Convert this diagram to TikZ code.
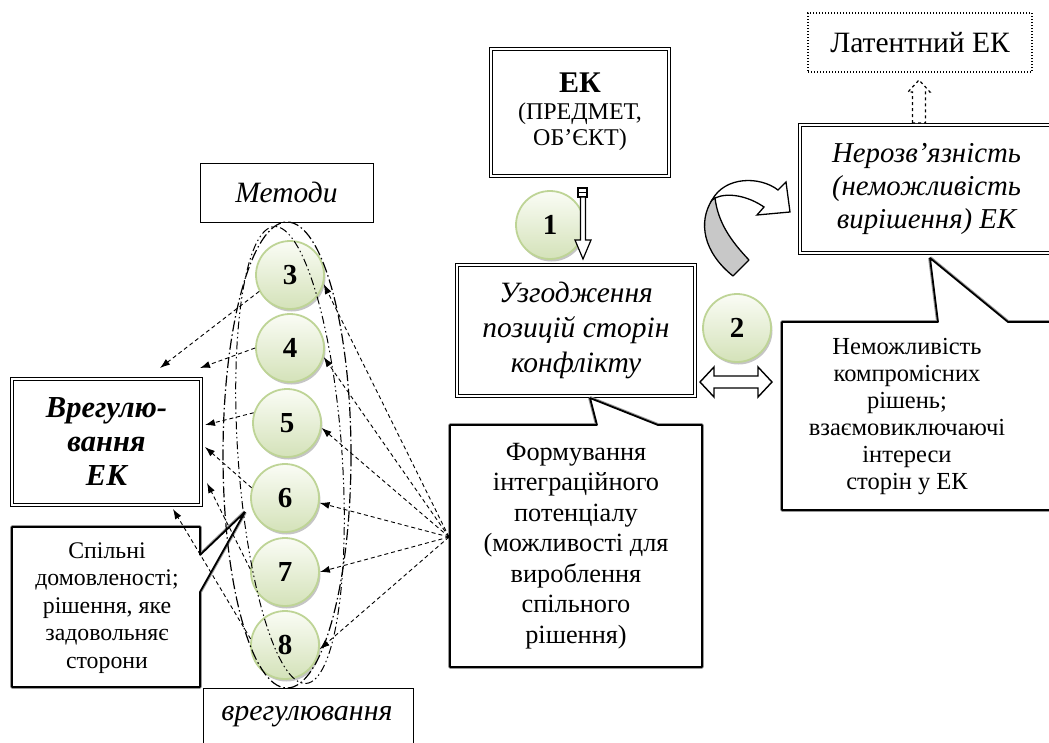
\documentclass[tikz,border=0pt]{standalone}
\usepackage{fontspec}
\setmainfont{Liberation Serif}
\usetikzlibrary{arrows.meta,calc,shadows}
\definecolor{circborder}{RGB}{190,212,150}
\definecolor{circtop}{RGB}{250,252,245}
\definecolor{circbot}{RGB}{212,226,185}
\definecolor{arrgray}{RGB}{200,200,200}
\begin{document}
\begin{tikzpicture}[x=1pt,y=-1pt,
  dbox/.style={draw, double, double distance=2pt, line width=1pt, fill=white, align=center, inner sep=0pt},
  sbox/.style={draw, line width=1pt, fill=white, align=center, inner sep=0pt},
  circ/.style={circle, minimum size=68pt, inner sep=0pt, draw=circborder, line width=1.8pt, top color=circtop, bottom color=circbot, drop shadow={shadow xshift=1.5pt, shadow yshift=-2.5pt, fill=black!45}, font=\fontsize{29}{30}\selectfont\bfseries},
  cpath/.style={draw=black, line width=1.8pt, fill=white, line join=bevel, preaction={draw=black!40, line width=3.8pt, line join=bevel}},
  dar/.style={dash pattern=on 4pt off 3pt, line width=0.9pt, -{Latex[length=10pt,width=7pt]}},
  blk/.style={draw, line width=1.4pt, fill=white, line join=miter},
  ctext/.style={align=center, inner sep=0pt}
]
\useasboundingbox (0,0) rectangle (1049,742);
\clip (0,0) rectangle (1049,742);

% top boxes
\node[sbox, dotted, line width=1.3pt, minimum width=224pt, minimum height=59pt, font=\fontsize{29.5}{30}\selectfont] (lat) at (920,42.5) {Латентний ЕК};
\node[dbox, minimum width=178pt, minimum height=127pt, font=\fontsize{24}{26.5}\selectfont] (ek) at (580,112) {{\bfseries\fontsize{30}{26}\selectfont ЕК}\\(ПРЕДМЕТ,\\ОБ’ЄКТ)};
\node[dbox, minimum width=238pt, minimum height=131pt, font=\itshape\fontsize{29.5}{35}\selectfont] (uzg) at (576,330) {Узгодження\\позицій сторін\\конфлікту};
\node[dbox, minimum width=253pt, minimum height=128pt, font=\itshape\fontsize{28.8}{33}\selectfont] (ner) at (926.5,189) {Нерозв’язність\\(неможливість\\вирішення) ЕК};

% left boxes
\node[sbox, minimum width=173pt, minimum height=59pt, font=\itshape\fontsize{29.5}{30}\selectfont] (met) at (286.5,192.5) {Методи};
\node[dbox, minimum width=189pt, minimum height=126pt, font=\bfseries\itshape\fontsize{30.5}{34}\selectfont] (vr) at (106.5,442) {Врегулю-\\вання\\ЕК};
\node[sbox, minimum width=210pt, minimum height=70pt, anchor=north] (vrb) at (308,688) {};
\node[ctext, font=\itshape\fontsize{30}{30}\selectfont] (vrt) at (307,717) {врегулювання};

% callouts
\draw[cpath] (450,425) -- (597,425) -- (590,398) -- (658,425) -- (702,425) -- (702,667) -- (450,667) -- cycle;
\node[ctext, font=\fontsize{26.3}{30.5}\selectfont] (form) at (576,546) {Формування\\інтеграційного\\потенціалу\\(можливості для\\вироблення\\спільного\\рішення)};

\draw[cpath] (782,322) -- (938,322) -- (930,258) -- (1008,322) -- (1070,322) -- (1070,510) -- (782,510) -- cycle;
\node[ctext, font=\fontsize{24.5}{27}\selectfont] (nem) at (907,417) {Неможливість\\компромісних\\рішень;\\взаємовиключаючі\\інтереси\\сторін у ЕК};

\draw[cpath] (12,527) -- (200,527) -- (200,555) -- (245,512) -- (200,592) -- (200,687) -- (12,687) -- cycle;
\node[ctext, font=\fontsize{23.8}{27.5}\selectfont] (spil) at (107,608) {Спільні\\домовленості;\\рішення, яке\\задовольняє\\сторони};

% circles
\node[circ] (c1) at (550,225) {1};
\node[circ] (c2) at (737,328) {2};
\node[circ] (c3) at (290,275) {3};
\node[circ] (c4) at (290,348) {4};
\node[circ] (c5) at (287,423) {5};
\node[circ] (c6) at (285,498) {6};
\node[circ] (c7) at (285,572) {7};
\node[circ] (c8) at (285,645) {8};

% ellipses
\draw[line width=1.2pt, dash pattern=on 11pt off 3pt on 1.5pt off 3pt] (287,455) ellipse [x radius=64pt, y radius=233pt];
\draw[line width=1pt, dash pattern=on 1.5pt off 3pt on 1.5pt off 3pt on 8pt off 3pt, rotate around={4:(290,455)}] (290,455) ellipse [x radius=52pt, y radius=229pt];

% hub arrows
\coordinate (hub) at (449,537);
\foreach \c/\a in {c3/345, c4/345, c5/352, c6/352, c7/0, c8/353}{
  \draw[dar] (hub) -- (\c.\a);
}
\fill (hub) circle (1.5pt);

% circle -> settlement box
\coordinate (t3) at (160,368);
\coordinate (t4) at (200,368);
\coordinate (t5) at (205,425);
\coordinate (t6) at (205,447);
\coordinate (t7) at (207,483);
\coordinate (t8) at (173,509);
\draw[dar] (c3.208) -- (t3);
\draw[dar] (c4.180) -- (t4);
\draw[dar] (c5.163) -- (t5);
\draw[dar] (c6.163) -- (t6);
\draw[dar] (c7.175) -- (t7);
\draw[dar] (c8.170) -- (t8);

% arrow 1 (EK -> Uzgodzhennya)
\draw[line width=1.3pt, fill=white] (578,188) rectangle (587,197);
\draw[line width=1pt] (578,192.5) -- (587,192.5);
\draw[blk, line width=1.2pt] (580.5,197) -- (580.5,240) -- (575,240) -- (583,259) -- (591,240) -- (585.5,240) -- (585.5,197) -- cycle;

% double arrow
\draw[blk] (700,382) -- (714,367) -- (714,376) -- (758,376) -- (758,367) -- (772,382) -- (758,397) -- (758,388) -- (714,388) -- (714,397) -- cycle;

% dashed up arrow to latent
\draw[blk, dashed, line width=1.2pt] (912.5,123) -- (912.5,92) -- (908,92) -- (919,80) -- (930,92) -- (925.5,92) -- (925.5,123) -- cycle;

% curved gray arrow
\draw[line width=1.3pt, fill=arrgray, line join=round] (712,200) .. controls (698,222) and (703,252) .. (733,276) -- (749,260) .. controls (730,240) and (718,222) .. (715,198) -- cycle;
\draw[line width=1.3pt, fill=white, line join=miter] (712,200) .. controls (725,176) and (760,176) .. (778,190) -- (786,182) -- (790,212) -- (757,215) -- (764,207) .. controls (748,196) and (728,192) .. (715,198) -- cycle;
\end{tikzpicture}
\end{document}
